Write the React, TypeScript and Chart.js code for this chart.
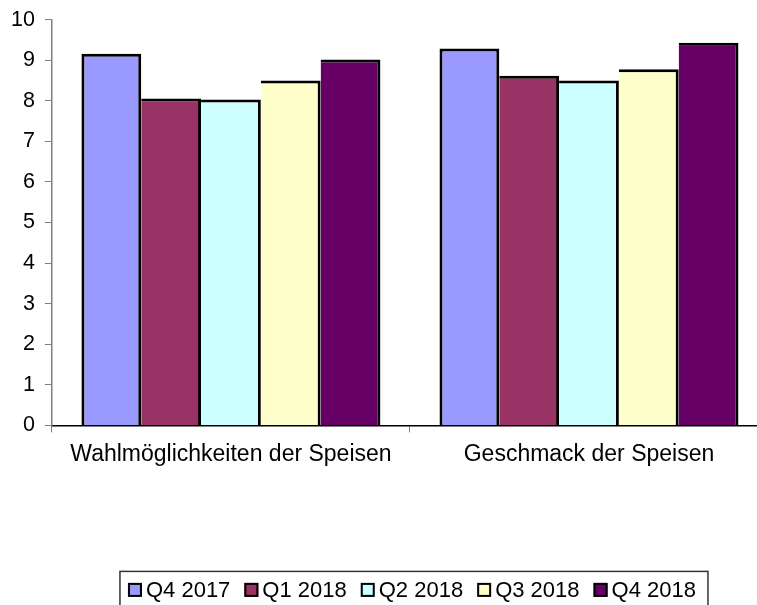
import React, { useEffect, useRef } from "react";
import { Chart, registerables } from "chart.js";

Chart.register(...registerables);

const categories = ["Wahlmöglichkeiten der Speisen", "Geschmack der Speisen"];
const seriesLabels = ["Q4 2017", "Q1 2018", "Q2 2018", "Q3 2018", "Q4 2018"];
const q4_2017 = [9.16, 9.29];
const q1_2018 = [8.06, 8.62];
const q2_2018 = [8.03, 8.5];
const q3_2018 = [8.5, 8.78];
const q4_2018 = [9.02, 9.43];
const seriesValues = [q4_2017, q1_2018, q2_2018, q3_2018, q4_2018];
const seriesColors = ["#9999FF", "#993366", "#CCFFFF", "#FFFFCC", "#660066"];
const yMin = 0;
const yMax = 10;
const yStep = 1;

const FONT = '"Liberation Sans", Arial, sans-serif';

const boxLegend = {
  id: "boxLegend",
  afterDraw(chart: any) {
    const ctx = chart.ctx;
    const ds = chart.data.datasets;
    ctx.save();
    ctx.font = `22px ${FONT}`;
    const box = 14;
    const gapText = 4;
    const gapItem = 14;
    const widths = ds.map((d: any) => ctx.measureText(d.label).width);
    const total =
      widths.reduce((a: number, w: number) => a + box + gapText + w, 0) +
      gapItem * (ds.length - 1);
    const ca = chart.chartArea;
    const cx = (ca.left + ca.right) / 2 + 2;
    let x = cx - total / 2;
    const top = ca.bottom + 146;
    const boxTop = top + 11.5;
    const baseline = top + 26;
    ctx.strokeStyle = "#333";
    ctx.lineWidth = 1.5;
    ctx.strokeRect(x - 8, top, total + 20, 60);
    ctx.textBaseline = "alphabetic";
    ds.forEach((d: any, i: number) => {
      ctx.fillStyle = d.backgroundColor;
      ctx.fillRect(x, boxTop, box, box);
      ctx.strokeStyle = "#000";
      ctx.lineWidth = 2;
      ctx.strokeRect(x + 1, boxTop + 1, box - 2, box - 2);
      ctx.fillStyle = "#000";
      ctx.fillText(d.label, x + box + gapText, baseline);
      x += box + gapText + widths[i] + gapItem;
    });
    ctx.restore();
  },
};

export default function App() {
  const ref = useRef<HTMLCanvasElement | null>(null);
  useEffect(() => {
    if (!ref.current) return;
    const chart = new Chart(ref.current, {
      type: "bar",
      data: {
        labels: categories,
        datasets: seriesLabels.map((label, i) => ({
          label,
          data: seriesValues[i],
          backgroundColor: seriesColors[i],
          borderColor: "#000",
          borderWidth: { top: 3, right: 3, bottom: 0, left: i === 0 ? 3 : 0 },
          borderSkipped: false as any,
          barPercentage: 1,
          categoryPercentage: 0.835,
        })),
      },
      options: {
        responsive: false,
        animation: false,
        maintainAspectRatio: false,
        layout: { padding: { left: 1, right: 2, top: 2, bottom: 129 } },
        plugins: {
          legend: { display: false },
          tooltip: { enabled: false },
        },
        scales: {
          x: {
            offset: true,
            grid: {
              offset: true,
              drawOnChartArea: false,
              drawTicks: true,
              tickLength: 7,
              color: "#808080",
            },
            border: { display: true, color: "#000", width: 1.5 },
            ticks: {
              color: "#000",
              font: { family: FONT, size: 23 },
              padding: 8,
              maxRotation: 0,
              autoSkip: false,
            },
          },
          y: {
            min: yMin,
            max: yMax,
            grid: {
              drawOnChartArea: false,
              drawTicks: true,
              tickLength: 7,
              color: "#808080",
            },
            border: { display: true, color: "#808080", width: 1.5 },
            ticks: {
              stepSize: yStep,
              color: "#000",
              font: { family: FONT, size: 21.5, lineHeight: 0.9 },
              padding: 10,
            },
          },
        },
      },
      plugins: [boxLegend],
    });
    return () => chart.destroy();
  }, []);
  return (
    <div
      style={{
        position: "absolute",
        left: 0,
        top: 0,
        width: 757,
        height: 605,
        overflow: "hidden",
        background: "#fff",
      }}
    >
      <canvas ref={ref} width={770} height={605} style={{ display: "block" }} />
    </div>
  );
}
